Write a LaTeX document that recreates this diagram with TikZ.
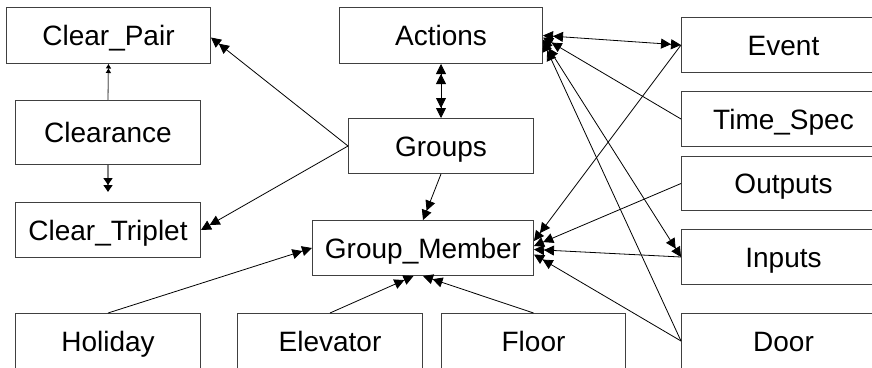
\documentclass[tikz,border=0pt]{standalone}
\usepackage{fontspec}
\setmainfont{Liberation Sans}
\usetikzlibrary{arrows.meta}
\begin{document}
\begin{tikzpicture}[x=1pt,y=-1pt,
  box/.style={draw=black!75, line width=1pt, fill=white, inner sep=0pt,
    anchor=north west, text height=20pt, text depth=0pt,
    font=\fontsize{28}{32}\selectfont},
  conn/.style={line width=0.8pt, black},
  tipA/.tip={Triangle[length=10pt,width=10pt]},
  dbl/.style={conn, -{tipA[]tipA[]}},
  bidbl/.style={conn, {tipA[]tipA[]}-{tipA[]tipA[]}},
  greyconn/.style={line width=1.3pt, black!50}
]
\useasboundingbox (0,0) rectangle (872,367);
\fill[white] (0,0) rectangle (872,367);
\clip (0,0) rectangle (872,367);

% entity boxes (x, y of the top left corner; width and height)
\node[box, minimum width=204pt, minimum height=56pt] (ClearPair) at (6,7) {Clear\_Pair};
\node[box, minimum width=185pt, minimum height=64pt] (Clearance) at (15,100) {Clearance};
\node[box, minimum width=185pt, minimum height=55pt] (ClearTriplet) at (15,202) {Clear\_Triplet};
\node[box, minimum width=203pt, minimum height=56pt] (Actions) at (339,7) {Actions};
\node[box, minimum width=185pt, minimum height=55pt] (Groups) at (348,118) {Groups};
\node[box, minimum width=221pt, minimum height=55pt] (GroupMember) at (312,220) {Group\_Member};
\node[box, minimum width=204pt, minimum height=55pt] (Event) at (681,17) {Event};
\node[box, minimum width=204pt, minimum height=55pt] (TimeSpec) at (681,91) {Time\_Spec};
\node[box, minimum width=204pt, minimum height=54pt] (Outputs) at (681,156) {Outputs};
\node[box, minimum width=204pt, minimum height=55pt] (Inputs) at (681,229) {Inputs};
\node[box, minimum width=204pt, minimum height=55pt] (Door) at (681,313) {Door};
\node[box, minimum width=185pt, minimum height=55pt] (Holiday) at (15,313) {Holiday};
\node[box, minimum width=185pt, minimum height=55pt] (Elevator) at (237,313) {Elevator};
\node[box, minimum width=184pt, minimum height=55pt] (Floor) at (441,313) {Floor};

% clearance links
\draw[greyconn, -{Triangle[length=4.5pt,width=5pt,black]Triangle[length=4.5pt,width=5pt,black]}]
  (Clearance.north) -- (ClearPair.south);
\draw[greyconn, -{Triangle[length=7pt,width=9pt,black]Triangle[length=7pt,width=9pt,black]}, shorten >=10pt]
  (Clearance.south) -- (ClearTriplet.north);

% group links
\draw[dbl] (Groups.west) -- ([yshift=-2pt]ClearPair.east);
\draw[dbl] (Groups.west) -- (ClearTriplet.east);
\draw[bidbl] (Actions.south) -- (Groups.north);
\draw[dbl] (Groups.south) -- (GroupMember.north);

% members
\draw[dbl] (Holiday.north) -- (GroupMember.west);
\draw[dbl] (Elevator.north) -- ([xshift=-9.5pt]GroupMember.south);
\draw[dbl] (Floor.north) -- (GroupMember.south);
\draw[dbl] (Event.west) -- ([yshift=7pt]GroupMember.east);
\draw[dbl] (Outputs.west) -- ([yshift=2pt]GroupMember.east);
\draw[dbl] (Inputs.west) -- ([yshift=-1.5pt]GroupMember.east);
\draw[dbl] (Door.west) -- ([yshift=-6.5pt]GroupMember.east);

% action links
\draw[bidbl] (Actions.east) -- (Event.west);
\draw[dbl] (TimeSpec.west) -- ([yshift=-2pt]Actions.east);
\draw[dbl] (Door.west) -- ([yshift=-6pt]Actions.east);
\draw[bidbl] ([yshift=-4pt]Actions.east) -- (Inputs.west);
\end{tikzpicture}
\end{document}
